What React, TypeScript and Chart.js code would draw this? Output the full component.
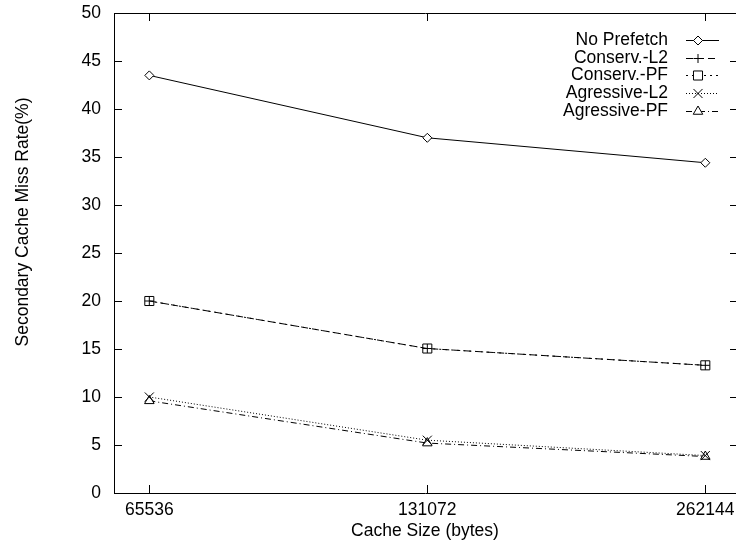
import React, { useEffect, useRef } from 'react';
import { Chart, registerables } from 'chart.js';

Chart.register(...registerables);

// ---- data ----
const CACHE_SIZES = [65536, 131072, 262144];
const SERIES_NAMES = ['No Prefetch', 'Conserv.-L2', 'Conserv.-PF', 'Agressive-L2', 'Agressive-PF'];
const NO_PREFETCH = [43.5, 37.0, 34.4];
const CONSERV_L2 = [20.0, 15.05, 13.3];
const CONSERV_PF = [20.0, 15.05, 13.3];
const AGRESSIVE_L2 = [10.0, 5.5, 3.9];
const AGRESSIVE_PF = [9.6, 5.2, 3.8];
const Y_TICKS = [0, 5, 10, 15, 20, 25, 30, 35, 40, 45, 50];
const X_TITLE = 'Cache Size (bytes)';
const Y_TITLE = 'Secondary Cache Miss Rate(%)';

const SERIES_VALUES = [NO_PREFETCH, CONSERV_L2, CONSERV_PF, AGRESSIVE_L2, AGRESSIVE_PF];

// ---- styles ----
const FONT_FAMILY = "'Liberation Sans', Arial, Helvetica, sans-serif";
const FONT_SIZE = 17.5;
const MARKERS = ['diamond', 'plus', 'square', 'x', 'triangle'];
const MARKER_RADIUS = [4.5, 4.5, 6.4, 6.4, 5.5];
const DASHES: number[][] = [[], [7, 4], [2, 4], [1, 2], [6, 3, 1, 3]];

function drawMarker(ctx: CanvasRenderingContext2D, kind: string, x: number, y: number, r: number) {
  ctx.save();
  ctx.setLineDash([]);
  ctx.lineWidth = 1;
  ctx.strokeStyle = '#000';
  ctx.fillStyle = '#fff';
  ctx.beginPath();
  if (kind === 'diamond') {
    ctx.moveTo(x, y - r);
    ctx.lineTo(x + r, y);
    ctx.lineTo(x, y + r);
    ctx.lineTo(x - r, y);
    ctx.closePath();
    ctx.fill();
    ctx.stroke();
  } else if (kind === 'plus') {
    ctx.moveTo(x - r, y);
    ctx.lineTo(x + r, y);
    ctx.moveTo(x, y - r);
    ctx.lineTo(x, y + r);
    ctx.stroke();
  } else if (kind === 'square') {
    const s = r * Math.SQRT1_2;
    ctx.rect(x - s, y - s, 2 * s, 2 * s);
    ctx.fill();
    ctx.stroke();
  } else if (kind === 'x') {
    const s = r * Math.SQRT1_2;
    ctx.moveTo(x - s, y - s);
    ctx.lineTo(x + s, y + s);
    ctx.moveTo(x - s, y + s);
    ctx.lineTo(x + s, y - s);
    ctx.stroke();
  } else if (kind === 'triangle') {
    ctx.moveTo(x, y - r);
    ctx.lineTo(x + 0.866 * r, y + 0.5 * r);
    ctx.lineTo(x - 0.866 * r, y + 0.5 * r);
    ctx.closePath();
    ctx.fill();
    ctx.stroke();
  }
  ctx.restore();
}

const CHART_STYLE_MAP: Record<string, string> = {
  diamond: 'rectRot',
  plus: 'cross',
  square: 'rect',
  x: 'crossRot',
  triangle: 'triangle',
};

const zeroPadding = (scale: any) => {
  scale.paddingTop = 0;
  scale.paddingBottom = 0;
  scale.paddingLeft = 0;
  scale.paddingRight = 0;
};

const gnuplotPlugin = {
  id: 'gnuplotFrame',
  beforeDatasetsDraw(chart: any) {
    const { ctx, chartArea } = chart;
    const { left, right, top, bottom } = chartArea;
    const xs = chart.scales.x;
    const ys = chart.scales.y;
    const tl = 8;
    ctx.save();
    ctx.strokeStyle = '#000';
    ctx.lineWidth = 1;
    ctx.setLineDash([]);
    ctx.beginPath();
    ctx.rect(Math.round(left) + 0.5, Math.round(top) + 0.5, Math.round(right - left), Math.round(bottom - top));
    ctx.stroke();
    ctx.beginPath();
    for (const v of Y_TICKS) {
      const py = Math.round(ys.getPixelForValue(v)) + 0.5;
      ctx.moveTo(left, py);
      ctx.lineTo(left + tl, py);
      ctx.moveTo(right - tl + 2, py);
      ctx.lineTo(right, py);
    }
    for (const v of CACHE_SIZES) {
      const px = Math.round(xs.getPixelForValue(v)) + 0.5;
      ctx.moveTo(px, bottom);
      ctx.lineTo(px, bottom - tl);
      ctx.moveTo(px, top);
      ctx.lineTo(px, top + tl);
    }
    ctx.stroke();
    ctx.restore();
  },
  afterDraw(chart: any) {
    const { ctx } = chart;
    ctx.save();
    // y-axis title
    ctx.fillStyle = '#000';
    ctx.font = `${FONT_SIZE}px ${FONT_FAMILY}`;
    ctx.textAlign = 'center';
    ctx.textBaseline = 'middle';
    ctx.translate(23, 222);
    ctx.rotate(-Math.PI / 2);
    ctx.fillText(Y_TITLE, 0, 0);
    ctx.restore();

    // gnuplot style key
    ctx.save();
    ctx.font = `${FONT_SIZE}px ${FONT_FAMILY}`;
    ctx.textAlign = 'right';
    ctx.textBaseline = 'middle';
    ctx.fillStyle = '#000';
    chart.data.datasets.forEach((ds: any, i: number) => {
      const y = 40 + 17.7 * i;
      ctx.fillText(ds.label, 668, y);
      ctx.save();
      ctx.strokeStyle = '#000';
      ctx.lineWidth = 1;
      ctx.setLineDash(DASHES[i]);
      ctx.beginPath();
      ctx.moveTo(686, Math.round(y) + 0.5);
      ctx.lineTo(719, Math.round(y) + 0.5);
      ctx.stroke();
      ctx.restore();
      drawMarker(ctx, MARKERS[i], 698, Math.round(y) + 0.5, MARKER_RADIUS[i]);
    });
    ctx.restore();
  },
};

export default function App() {
  const canvasRef = useRef<HTMLCanvasElement | null>(null);

  useEffect(() => {
    if (!canvasRef.current) return;
    const datasets = SERIES_NAMES.map((name, i) => ({
      label: name,
      data: CACHE_SIZES.map((x, j) => ({ x, y: SERIES_VALUES[i][j] })),
      borderColor: '#000',
      borderWidth: 1,
      borderDash: DASHES[i],
      pointStyle: CHART_STYLE_MAP[MARKERS[i]],
      pointRadius: MARKER_RADIUS[i],
      pointHoverRadius: MARKER_RADIUS[i],
      pointBorderColor: '#000',
      pointBorderWidth: 1,
      pointBackgroundColor: '#fff',
      fill: false,
      tension: 0,
      clip: false as any,
    }));

    const chart = new Chart(canvasRef.current, {
      type: 'line',
      data: { datasets },
      plugins: [gnuplotPlugin as any],
      options: {
        animation: false,
        responsive: false,
        devicePixelRatio: 1,
        layout: { autoPadding: false, padding: { top: 13, right: 0, left: 0, bottom: 0 } },
        plugins: {
          legend: { display: false },
          tooltip: { enabled: false },
          title: { display: false },
        },
        scales: {
          x: {
            type: 'logarithmic',
            min: 60012,
            max: 282985,
            grid: { display: false, drawTicks: true, tickLength: 7 },
            border: { display: false },
            afterFit: (scale: any) => {
              scale.height = 50;
              zeroPadding(scale);
            },
            afterBuildTicks: (scale: any) => {
              scale.ticks = CACHE_SIZES.map((v) => ({ value: v }));
            },
            ticks: {
              autoSkip: false,
              maxRotation: 0,
              minRotation: 0,
              padding: 0,
              color: '#000',
              font: { family: FONT_FAMILY, size: FONT_SIZE },
              callback: (v: any) => String(v),
            },
            title: {
              display: true,
              text: X_TITLE,
              color: '#000',
              font: { family: FONT_FAMILY, size: FONT_SIZE },
              padding: { top: 0, bottom: 1 },
            },
          },
          y: {
            type: 'linear',
            min: 0,
            max: 50,
            grid: { display: false, drawTicks: false },
            border: { display: false },
            afterFit: (scale: any) => {
              scale.width = 114;
              zeroPadding(scale);
            },
            ticks: {
              stepSize: 5,
              padding: 13,
              color: '#000',
              font: { family: FONT_FAMILY, size: FONT_SIZE },
            },
          },
        },
      } as any,
    });
    return () => chart.destroy();
  }, []);

  return (
    <div style={{ position: 'absolute', left: 0, top: 0, width: 736, height: 543, background: '#fff' }}>
      <canvas ref={canvasRef} width={736} height={543} style={{ display: 'block' }} />
    </div>
  );
}
